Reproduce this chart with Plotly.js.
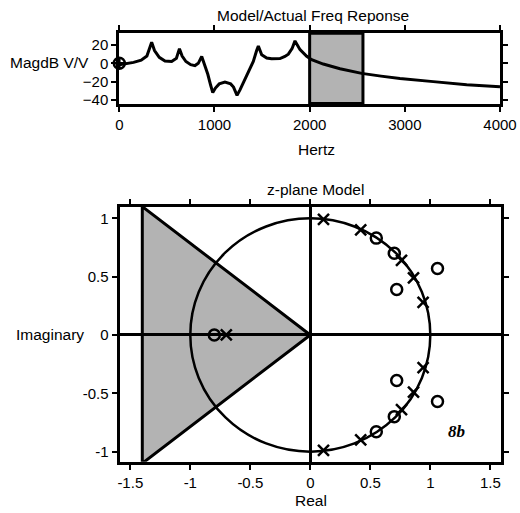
<!DOCTYPE html>
<html>
<head>
<meta charset="utf-8">
<script src="https://cdn.plot.ly/plotly-3.0.1.min.js"></script>
<style>html,body{margin:0;padding:0;background:#fff;}#chart{width:520px;height:513px;}</style>
</head>
<body>
<div id="chart"></div>
<script>
// ---- Frequency response ----
const freqHz = [0, 60, 150, 230, 290, 340, 370, 420, 480, 550, 600, 632, 660, 700, 750, 795, 830, 866, 900, 930, 960, 982, 1010, 1050, 1110, 1170, 1200, 1237, 1268, 1300, 1338, 1373, 1408, 1443, 1461, 1496, 1549, 1600, 1688, 1740, 1776, 1815, 1846, 1899, 1969, 2021, 2143, 2319, 2547, 2750, 2949, 3299, 3650, 4000];
const magDb  = [-1.5, -0.5, 1, 3.5, 8, 23, 14, 6.5, 2.5, 2, 5.5, 16, 8, 2, -1.5, -2.5, 0, 7.5, -2, -12, -24, -32, -27, -22.5, -20.5, -22.5, -26, -35, -29, -22, -12.8, -5, 2, 14, 19, 9.4, 5.8, 5, 5.2, 7.5, 10, 16, 24.5, 14.9, 7.6, 3.9, -0.8, -5.9, -11, -14, -16.5, -20, -23.5, -25.5];
const originMarkX = [0];
const originMarkY = [0];
const shadeBandHz = [2000, 2560];
const freqTicks = [0, 1000, 2000, 3000, 4000];
const dbTicks = [-40, -20, 0, 20];

// ---- z-plane model ----
const poleRe = [0.11, 0.42, 0.76, 0.86, 0.94, -0.70, 0.94, 0.86, 0.76, 0.42, 0.11];
const poleIm = [0.99, 0.90, 0.64, 0.49, 0.28, 0, -0.28, -0.49, -0.64, -0.90, -0.99];
const zeroRe = [0.55, 0.70, 1.06, 0.72, -0.80, 0.72, 1.06, 0.70, 0.55];
const zeroIm = [0.83, 0.70, 0.57, 0.39, 0, -0.39, -0.57, -0.70, -0.83];
const wedgeX = [0, -1.4, -1.4];
const wedgeY = [0, 1.1, -1.1];
const unitCircle = [-1, 1];
const reTicks = [-1.5, -1, -0.5, 0, 0.5, 1, 1.5];
const reTickText = ['-1.5', '-1', '-0.5', '0', '0.5', '1', '1.5'];
const imTicks = [-1, -0.5, 0, 0.5, 1];
const imTickText = ['-1', '-0.5', '0', '0.5', '1'];

const W = 520, H = 513;
const px = v => v / W;
const py = v => (H - v) / H;
const FONT = 'Liberation Sans, Arial, sans-serif';
const GRAY = '#b3b3b3';

const axisCommon = {
  showgrid: false, zeroline: false, showline: true, linecolor: '#000', linewidth: 3,
  mirror: 'ticks', ticks: 'outside', ticklen: 5, tickwidth: 2, tickcolor: '#000',
  tickfont: {family: FONT, size: 15, color: '#000'}, fixedrange: true
};

const traces = [
  {x: freqHz, y: magDb, xaxis: 'x', yaxis: 'y', mode: 'lines',
   line: {color: '#000', width: 3}, hoverinfo: 'skip'},
  {x: originMarkX, y: originMarkY, xaxis: 'x', yaxis: 'y', mode: 'markers', cliponaxis: false,
   marker: {symbol: 'circle-cross-open', size: 11, color: '#000', line: {width: 2.5, color: '#000'}}},
  {x: zeroRe, y: zeroIm, xaxis: 'x2', yaxis: 'y2', mode: 'markers',
   marker: {symbol: 'circle-open', size: 11, color: '#000', line: {width: 2.5, color: '#000'}}},
  {x: poleRe, y: poleIm, xaxis: 'x2', yaxis: 'y2', mode: 'markers',
   marker: {symbol: 'x-thin-open', size: 11, color: '#000', line: {width: 2.5, color: '#000'}}}
];

const wedgePath = 'M ' + wedgeX.map((x, i) => x + ' ' + wedgeY[i]).join(' L ') + ' Z';

const layout = {
  width: W, height: H, showlegend: false,
  margin: {l: 0, r: 0, t: 0, b: 0},
  paper_bgcolor: '#fff', plot_bgcolor: '#fff',
  font: {family: FONT, size: 15, color: '#000'},
  xaxis: Object.assign({}, axisCommon, {
    domain: [px(119.3), px(500)], range: [0, 4000], tickvals: freqTicks, anchor: 'y'
  }),
  yaxis: Object.assign({}, axisCommon, {
    domain: [py(103.5), py(33.2)], range: [-43.9, 32.9], tickvals: dbTicks, anchor: 'x'
  }),
  xaxis2: Object.assign({}, axisCommon, {
    domain: [px(119.5), px(500.5)], range: [-1.59, 1.585], tickvals: reTicks, ticktext: reTickText, anchor: 'y2',
    zeroline: true, zerolinecolor: '#000', zerolinewidth: 3
  }),
  yaxis2: Object.assign({}, axisCommon, {
    domain: [py(461.8), py(206.5)], range: [-1.087, 1.101], tickvals: imTicks, ticktext: imTickText, anchor: 'x2',
    zeroline: true, zerolinecolor: '#000', zerolinewidth: 3
  }),
  shapes: [
    {type: 'rect', xref: 'x', yref: 'y domain', x0: shadeBandHz[0], x1: shadeBandHz[1], y0: 0, y1: 1,
     fillcolor: GRAY, line: {color: '#000', width: 3}, layer: 'below'},
    {type: 'path', xref: 'x2', yref: 'y2', path: wedgePath,
     fillcolor: GRAY, line: {color: '#000', width: 3}, layer: 'below'},
    {type: 'circle', xref: 'x2', yref: 'y2', x0: unitCircle[0], x1: unitCircle[1], y0: unitCircle[0], y1: unitCircle[1],
     line: {color: '#000', width: 2.5}, layer: 'above'}
  ],
  annotations: [
    {text: 'Model/Actual Freq Reponse', xref: 'paper', yref: 'paper', x: px(313), y: py(15.5), showarrow: false, xanchor: 'center', yanchor: 'middle', font: {size: 15.5}},
    {text: 'Hertz', xref: 'paper', yref: 'paper', x: px(316), y: py(149), showarrow: false, xanchor: 'center', yanchor: 'middle', font: {size: 15.5}},
    {text: 'MagdB V/V', xref: 'paper', yref: 'paper', x: px(49), y: py(62.5), showarrow: false, xanchor: 'center', yanchor: 'middle', font: {size: 15.5}},
    {text: 'z-plane Model', xref: 'paper', yref: 'paper', x: px(315), y: py(189), showarrow: false, xanchor: 'center', yanchor: 'middle', font: {size: 15.5}},
    {text: 'Imaginary', xref: 'paper', yref: 'paper', x: px(50), y: py(334), showarrow: false, xanchor: 'center', yanchor: 'middle', font: {size: 15.5}},
    {text: 'Real', xref: 'paper', yref: 'paper', x: px(311), y: py(500), showarrow: false, xanchor: 'center', yanchor: 'middle', font: {size: 15.5}},
    {text: '<b><i>8b</i></b>', xref: 'paper', yref: 'paper', x: px(456), y: py(431.5), showarrow: false, xanchor: 'center', yanchor: 'middle', font: {family: 'Liberation Serif, Times New Roman, serif', size: 17}}
  ]
};

Plotly.newPlot('chart', traces, layout, {staticPlot: true, displayModeBar: false});
</script>
</body>
</html>
